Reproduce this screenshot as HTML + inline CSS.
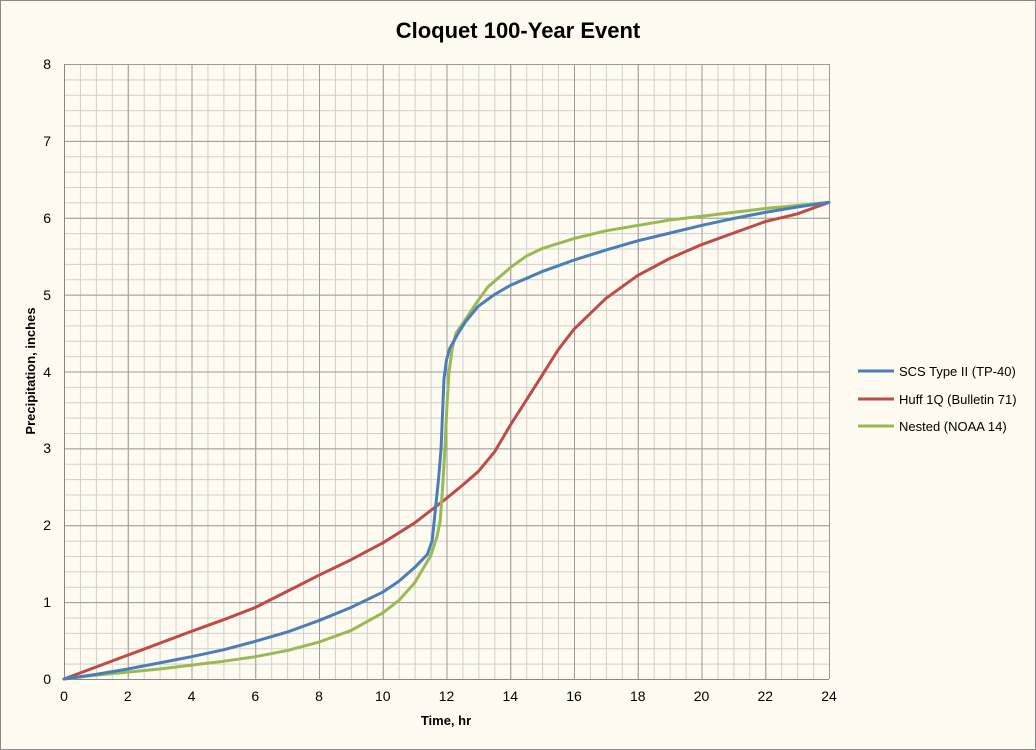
<!DOCTYPE html>
<html><head><style>body{margin:0;background:#fffbf0}svg{display:block}</style></head><body>
<svg width="1036" height="750" xmlns="http://www.w3.org/2000/svg" font-family="Liberation Sans, sans-serif">
<defs>
<pattern id="mn" patternUnits="userSpaceOnUse" x="64" y="64" width="15.9375" height="15.375">
<path d="M0.5 0V15.375M0 0.5H15.9375" stroke="#cfcfcf" stroke-width="1" fill="none"/>
</pattern>
<pattern id="mj" patternUnits="userSpaceOnUse" x="64" y="64" width="63.75" height="76.875">
<path d="M0.5 0V76.875M0 0.5H63.75" stroke="#9a9a9a" stroke-width="1" fill="none"/>
</pattern>
</defs>
<rect x="0.5" y="0.5" width="1035" height="749" fill="#fffbf0" stroke="#888"/>
<text x="518" y="38" text-anchor="middle" font-size="22" font-weight="bold">Cloquet 100-Year Event</text>
<rect x="64" y="64" width="765" height="615" fill="url(#mn)"/>
<rect x="64" y="64" width="765" height="615" fill="url(#mj)"/>
<line x1="829.5" y1="64" x2="829.5" y2="679" stroke="#9a9a9a"/>
<line x1="64" y1="679.5" x2="829" y2="679.5" stroke="#888"/>
<line x1="64.5" y1="64" x2="64.5" y2="679" stroke="#888"/>
<g font-size="14" text-anchor="end">
<text x="51" y="684">0</text><text x="51" y="607">1</text><text x="51" y="530">2</text><text x="51" y="453">3</text><text x="51" y="377">4</text><text x="51" y="300">5</text><text x="51" y="223">6</text><text x="51" y="146">7</text><text x="51" y="69">8</text>
</g>
<g font-size="14" text-anchor="middle">
<text x="64" y="701">0</text><text x="127.75" y="701">2</text><text x="191.5" y="701">4</text><text x="255.25" y="701">6</text><text x="319" y="701">8</text><text x="382.75" y="701">10</text><text x="446.5" y="701">12</text><text x="510.25" y="701">14</text><text x="574" y="701">16</text><text x="637.75" y="701">18</text><text x="701.5" y="701">20</text><text x="765.25" y="701">22</text><text x="829" y="701">24</text>
</g>
<text x="446" y="725" text-anchor="middle" font-size="13" font-weight="bold">Time, hr</text>
<text transform="translate(35,371) rotate(-90)" text-anchor="middle" font-size="13" font-weight="bold">Precipitation, inches</text>
<g transform="translate(64,679) scale(31.875,-76.875)" fill="none" stroke-width="3" stroke-linejoin="round" stroke-linecap="round">
<polyline vector-effect="non-scaling-stroke" stroke="#be4b48" points="0,0 2,0.31 4,0.62 5,0.77 6,0.93 7,1.14 8,1.35 9,1.55 10,1.77 11,2.03 12,2.35 12.5,2.52 13,2.7 13.5,2.95 14,3.3 15,3.95 15.5,4.28 16,4.55 17,4.95 18,5.25 19,5.47 20,5.65 21,5.8 22,5.95 23,6.05 24,6.2"/>
<polyline vector-effect="non-scaling-stroke" stroke="#98b954" points="0,0 1,0.05 2,0.09 3,0.13 4,0.18 5,0.23 6,0.29 7,0.37 8,0.48 9,0.63 10,0.86 10.5,1.02 11,1.25 11.5,1.6 11.7,1.85 11.8,2.05 11.88,2.5 11.95,3 12.02,3.6 12.08,4 12.18,4.3 12.3,4.5 12.6,4.68 13,4.93 13.3,5.1 14,5.35 14.5,5.5 15,5.6 16,5.73 17,5.83 18,5.9 19,5.97 20,6.02 21,6.07 22,6.12 23,6.16 24,6.2"/>
<polyline vector-effect="non-scaling-stroke" stroke="#4a7ebb" points="0,0 1,0.06 2,0.13 3,0.21 4,0.29 5,0.38 6,0.49 7,0.61 8,0.76 9,0.93 10,1.13 10.5,1.27 11,1.45 11.4,1.62 11.55,1.8 11.65,2.2 11.75,2.6 11.83,3 11.92,3.9 12,4.15 12.1,4.3 12.4,4.52 12.6,4.65 13,4.85 13.5,5 14,5.12 15,5.3 16,5.45 17,5.58 18,5.7 19,5.8 20,5.9 21,5.99 22,6.07 23,6.14 24,6.2"/>
</g>
<g font-size="13">
<line x1="858" y1="371" x2="894" y2="371" stroke="#4a7ebb" stroke-width="3"/><text x="899" y="376">SCS Type II (TP-40)</text>
<line x1="858" y1="399" x2="894" y2="399" stroke="#be4b48" stroke-width="3"/><text x="899" y="404">Huff 1Q (Bulletin 71)</text>
<line x1="858" y1="426" x2="894" y2="426" stroke="#98b954" stroke-width="3"/><text x="899" y="431">Nested (NOAA 14)</text>
</g>
</svg>
</body></html>
